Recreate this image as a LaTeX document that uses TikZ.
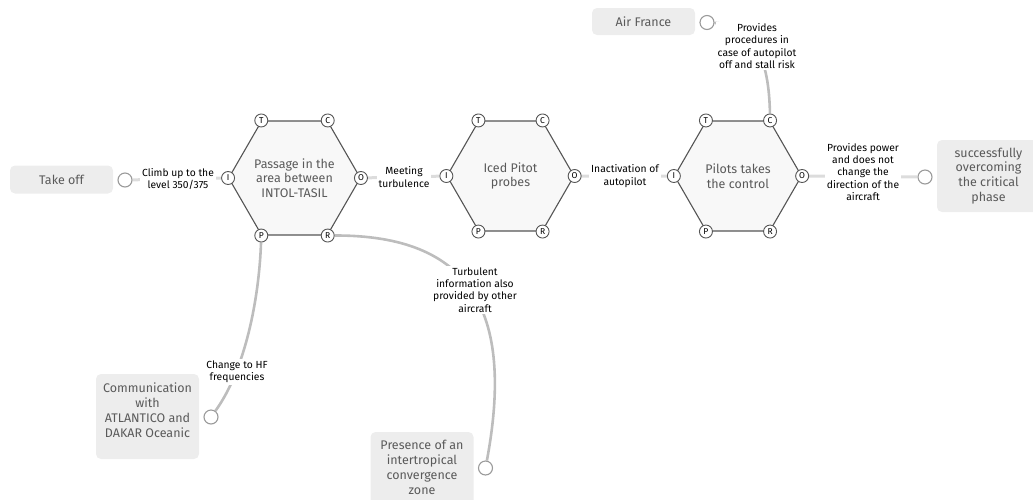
\documentclass[tikz,border=0pt]{standalone}
\usepackage{fontspec}
\setmainfont{Fira Sans}
\usetikzlibrary{shapes.geometric, backgrounds}

\definecolor{hexline}{HTML}{555555}
\definecolor{hexfill}{HTML}{F8F8F8}
\definecolor{hextext}{HTML}{5A5A5A}
\definecolor{cardfill}{HTML}{EDEDED}
\definecolor{plugline}{HTML}{9A9A9A}
\definecolor{linkgray}{HTML}{DCDCDC}
\definecolor{arcgray}{HTML}{BDBDBD}

\begin{document}
\begin{tikzpicture}[x=1pt, y=-1pt,
	hexa/.style={regular polygon, regular polygon sides=6, minimum size=127pt, inner sep=0pt, draw=hexline, line width=1.1pt, fill=hexfill, text=hextext, font=\fontsize{12.5}{14.5}\selectfont, align=center},
	port/.style={circle, draw=hexline, line width=0.9pt, fill=white, inner sep=0pt, minimum size=13pt, font=\fontsize{8.5}{9}\selectfont},
	card/.style={rounded corners=5pt, fill=cardfill, text=hextext, minimum width=103pt, font=\fontsize{12.5}{14.8}\selectfont, align=center},
	plug/.style={circle, draw=plugline, line width=1.1pt, fill=white, inner sep=0pt, minimum size=14pt},
	link/.style={line width=3pt, draw=linkgray},
	arcline/.style={line width=2.6pt, draw=arcgray},
	tag/.style={fill=white, inner sep=2pt, font=\fontsize{10.3}{12.2}\selectfont, align=center}]
	
	\useasboundingbox (0,0) rectangle (1033,499);
	
	% Hexagons
	\node[hexa] (h1) at (294.5,178) {Passage in the\\area between\\INTOL-TASIL};
	\node[hexa] (h2) at (510.5,176) {Iced Pitot\\probes};
	\node[hexa] (h3) at (738,176) {Pilots takes\\the control};
	
	% Ports on the corners
	\foreach \h in {h1,h2,h3} {
		\node[port] (\h T) at (\h.120) {T};
		\node[port] (\h C) at (\h.60) {C};
		\node[port] (\h O) at (\h.0) {O};
		\node[port] (\h R) at (\h.300) {R};
		\node[port] (\h P) at (\h.240) {P};
		\node[port] (\h I) at (\h.180) {I};
	}
	
	% Cards
	\node[card, minimum height=28pt] (takeoff) at (61.5,179.5) {Take off};
	\node[card, minimum height=27pt] (airfrance) at (643.5,21.5) {Air France};
	\node[card, minimum height=72pt] (success) at (988.5,176) {successfully\\overcoming\\the critical\\phase};
	\node[card, minimum height=85pt, text depth=13pt] (comm) at (147.5,416.5) {Communication\\with\\ATLANTICO and\\DAKAR Oceanic};
	\node[card, minimum height=85pt, text depth=14pt] (itcz) at (422,474.5) {Presence of an\\intertropical\\convergence\\zone};
	
	% Plugs
	\node[plug] (ptakeoff) at (125,180) {};
	\node[plug] (pairfrance) at (707,22.5) {};
	\node[plug] (psuccess) at (925,177) {};
	\node[plug] (pcomm) at (211,417) {};
	\node[plug] (pitcz) at (485.5,468) {};
	
	% Connectors
	\begin{pgfonlayer}{background}
		\draw[link] (ptakeoff) -- (h1I);
		\draw[link] (h1O) -- (h2I);
		\draw[link] (h2O) -- (h3I);
		\draw[link] (h3O) -- (psuccess);
		\draw[arcline] (pairfrance) .. controls (755,25) and (769,60) .. (h3C);
		\draw[arcline] (h1P) .. controls (259,300) and (245,370) .. (pcomm);
		\draw[arcline] (h1R) .. controls (470,235) and (515,310) .. (pitcz);
	\end{pgfonlayer}
	
	% Labels
	\node[tag] (tclimb) at (178,179) {Climb up to the\\level 350/375};
	\node[tag] (tmeet) at (404,177) {Meeting\\turbulence};
	\node[tag] (tinact) at (625,176) {Inactivation of\\autopilot};
	\node[tag] (tpower) at (863,172) {Provides power\\and does not\\change the\\direction of the\\aircraft};
	\node[tag] (tproc) at (757,46) {Provides\\procedures in\\case of autopilot\\off and stall risk};
	\node[tag] (thf) at (237,372) {Change to HF\\frequencies};
	\node[tag] (tturb) at (475,290) {Turbulent\\information also\\provided by other\\aircraft};
	
\end{tikzpicture}
\end{document}
